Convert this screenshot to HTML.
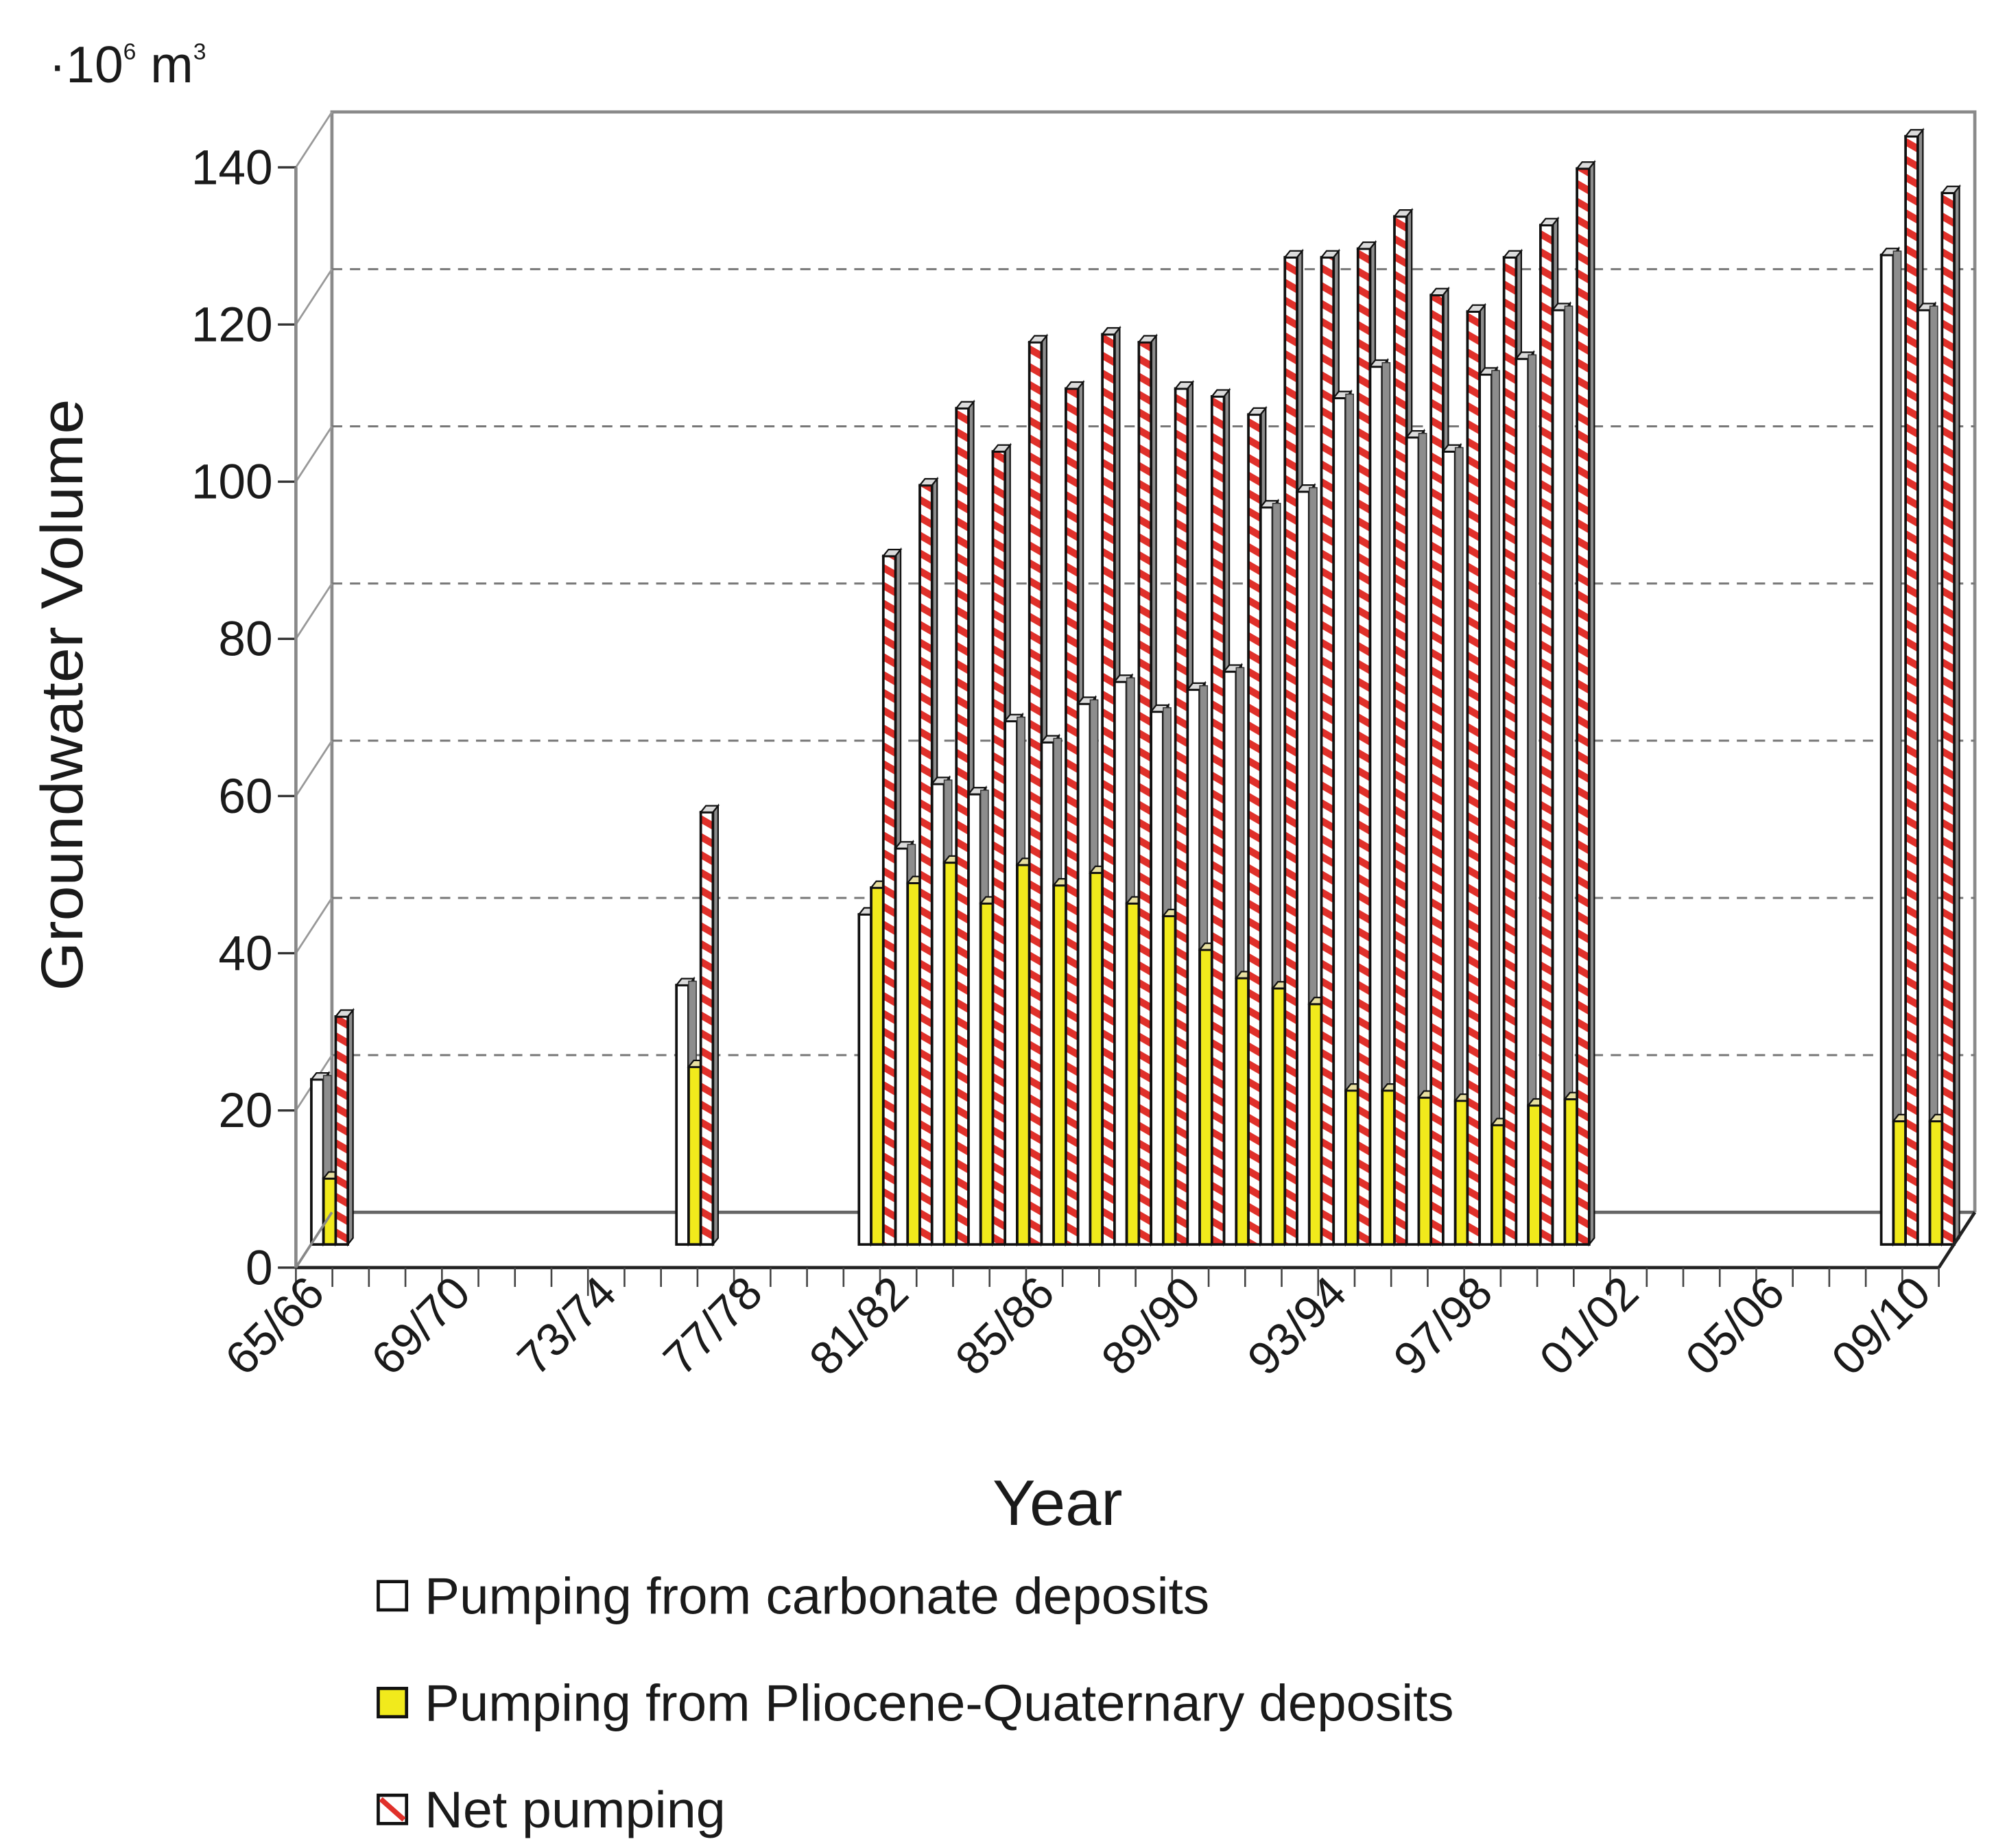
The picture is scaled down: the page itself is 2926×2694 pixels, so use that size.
<!DOCTYPE html>
<html><head><meta charset="utf-8"><style>
html,body{margin:0;padding:0;background:#fff;}
svg{display:block;}
text{font-family:"Liberation Sans",sans-serif;fill:#1a1a1a;}
</style></head><body>
<svg id="chart" xmlns="http://www.w3.org/2000/svg" width="2926" height="2694" viewBox="0 0 1560 1436" preserveAspectRatio="none">
<defs>
<pattern id="stripes" patternUnits="userSpaceOnUse" width="12" height="12" patternTransform="rotate(30)">
<rect width="12" height="12" fill="#fff"/>
<rect width="12" height="5.5" fill="#e0302a"/>
</pattern>
</defs>
<g id="frame"></g>
<g id="bars"></g>
<g id="axes"></g>
<text x="38" y="64" font-size="40">·10<tspan font-size="18" dy="-18">6</tspan><tspan dy="18"> m</tspan><tspan font-size="18" dy="-18">3</tspan></text>
<text transform="translate(64,540) rotate(-90)" text-anchor="middle" font-size="46" textLength="460" lengthAdjust="spacingAndGlyphs">Groundwater Volume</text>
<text x="822" y="1185" text-anchor="middle" font-size="50">Year</text>
<g>
<g><rect x="294" y="1229" width="22" height="22" fill="#fff" stroke="#111" stroke-width="2.5"/><text x="330" y="1254" font-size="40" textLength="610" lengthAdjust="spacingAndGlyphs">Pumping from carbonate deposits</text></g>
<g><rect x="294" y="1312" width="22" height="22" fill="#f1ea1c" stroke="#111" stroke-width="2.5"/><text x="330" y="1337" font-size="40" textLength="800" lengthAdjust="spacingAndGlyphs">Pumping from Pliocene-Quaternary deposits</text></g>
<g><rect x="294" y="1395" width="22" height="22" fill="#fff" stroke="#111" stroke-width="2.5"/><line x1="296" y1="1398" x2="314" y2="1414" stroke="#e0302a" stroke-width="4"/><text x="330" y="1420" font-size="40" textLength="234" lengthAdjust="spacingAndGlyphs">Net pumping</text></g>
</g>
</svg>
<script>
const slots = [0,10,15,16,17,18,19,20,21,22,23,24,25,26,27,28,29,30,31,32,33,34,43,44];
const carbonate = [21,33,42,50.4,58.6,57.3,66.6,63.9,68.8,71.6,67.8,70.6,72.9,93.8,95.8,107.7,111.7,102.7,100.9,110.7,112.7,118.9,125.9,118.9];
const pliocene = [8.4,22.6,45.4,46,48.6,43.4,48.3,45.7,47.3,43.4,41.8,37.5,33.9,32.6,30.6,19.6,19.6,18.7,18.3,15.2,17.7,18.5,15.7,15.7];
const netPumping = [29,55,87.6,96.6,106.4,100.9,114.8,108.9,115.8,114.8,108.9,107.9,105.6,125.6,125.6,126.7,130.8,120.8,118.7,125.6,129.7,136.9,141,133.8];
const yTicks = [0,20,40,60,80,100,120,140];
const xLabels = ["65/66","69/70","73/74","77/78","81/82","85/86","89/90","93/94","97/98","01/02","05/06","09/10"];
const nSlots = 45;

const NS = "http://www.w3.org/2000/svg";
const X0 = 230, SW = (1507-230)/nSlots, Y0 = 985, U = 855/140, DX = 28, DY = -43;
const xs = i => X0 + i*SW;
const yFront = v => Y0 - v*U;
const yBar = v => 967 - v*U;
function mk(tag, attrs, parent){const e=document.createElementNS(NS,tag);for(const k in attrs)e.setAttribute(k,attrs[k]);parent.appendChild(e);return e;}

const frame = document.getElementById('frame');
const axes = document.getElementById('axes');
const barsG = document.getElementById('bars');
let bw = mk('path',{d:`M${X0+DX},${Y0+DY} L${X0+DX},${yFront(140)+DY} L${xs(nSlots)+DX},${yFront(140)+DY} L${xs(nSlots)+DX},${Y0+DY}`,fill:'none',stroke:'#8a8a8a','stroke-width':2.5},frame);


yTicks.forEach(v=>{
  if(v>0 && v<140){
    const g = mk('line',{x1:X0+DX,x2:xs(nSlots)+DX,y1:yFront(v)+DY,y2:yFront(v)+DY,stroke:'#777','stroke-width':1.6,'stroke-dasharray':'8,6'},frame);
    
    
  }
  const d = mk('line',{x1:X0,y1:yFront(v),x2:X0+DX,y2:yFront(v)+DY,stroke:'#999','stroke-width':1.5},frame);
  
  
  const t = mk('line',{x1:X0-14,x2:X0,y1:yFront(v),y2:yFront(v),stroke:'#333','stroke-width':1.8},axes);
  
  
  const lb = mk('text',{x:X0-18,y:yFront(v)+13,'text-anchor':'end','font-size':38},axes);
  lb.textContent = v;
  
  
});
let back = mk('line',{x1:X0+DX,y1:Y0+DY,x2:xs(nSlots)+DX,y2:Y0+DY,stroke:'#666','stroke-width':2.5},frame);


let yax = mk('line',{x1:X0,y1:Y0,x2:X0,y2:yFront(140),stroke:'#888','stroke-width':2.5},axes);



function bar(x,v,fill,w,name){
  const top=yBar(v), base=yBar(0);
  const g = mk('g',{},barsG);
  
  
  mk('path',{d:`M${x+w},${base} L${x+w+4},${base-5} L${x+w+4},${top-5} L${x+w},${top} Z`,fill:'#8d8d8d',stroke:'#111','stroke-width':1.2},g);
  mk('rect',{x:x,y:top,width:w,height:base-top,fill:fill,stroke:'#111','stroke-width':2},g);
  mk('path',{d:`M${x},${top} L${x+4},${top-5} L${x+w+4},${top-5} L${x+w},${top} Z`,fill:fill==='#f1ea1c'?'#e8e0a0':'#dcdcdc',stroke:'#111','stroke-width':1.2},g);
}
const BW = SW/3;
slots.forEach((s,i)=>{
  const bx = xs(s)+12;
  bar(bx,carbonate[i],'#fff',BW,'bar-carbonate-'+s);
  if(pliocene[i]<carbonate[i]){
    const sh = mk('rect',{x:bx+BW,y:yBar(carbonate[i])-3,width:6,height:yBar(pliocene[i])-yBar(carbonate[i])+3,fill:'#8d8d8d',stroke:'#333','stroke-width':0.8},barsG);
    
    
  }
  bar(bx+BW,pliocene[i],'#f1ea1c',BW,'bar-pliocene-'+s);
  bar(bx+2*BW,netPumping[i],'url(#stripes)',BW,'bar-net-'+s);
});

let fx = mk('line',{x1:X0,y1:Y0,x2:xs(nSlots),y2:Y0,stroke:'#222','stroke-width':2.5},axes);


let fl = mk('line',{x1:X0,y1:Y0,x2:X0+DX,y2:Y0+DY,stroke:'#888','stroke-width':2},axes);


let fr = mk('line',{x1:xs(nSlots),y1:Y0,x2:xs(nSlots)+DX,y2:Y0+DY,stroke:'#222','stroke-width':2.5},axes);


for(let i=0;i<=nSlots;i++){
  const t = mk('line',{x1:xs(i),x2:xs(i),y1:Y0,y2:Y0+(i%4===0?22:15),stroke:'#444','stroke-width':1.4},axes);
  
  
}
xLabels.forEach((l,k)=>{
  const x = xs(k*4)+24, y = Y0+22;
  const t = mk('text',{x:x,y:y,'text-anchor':'end','font-size':36,transform:`rotate(-45 ${x} ${y})`},axes);
  t.textContent = l;
  
  
});
</script>
</body></html>
